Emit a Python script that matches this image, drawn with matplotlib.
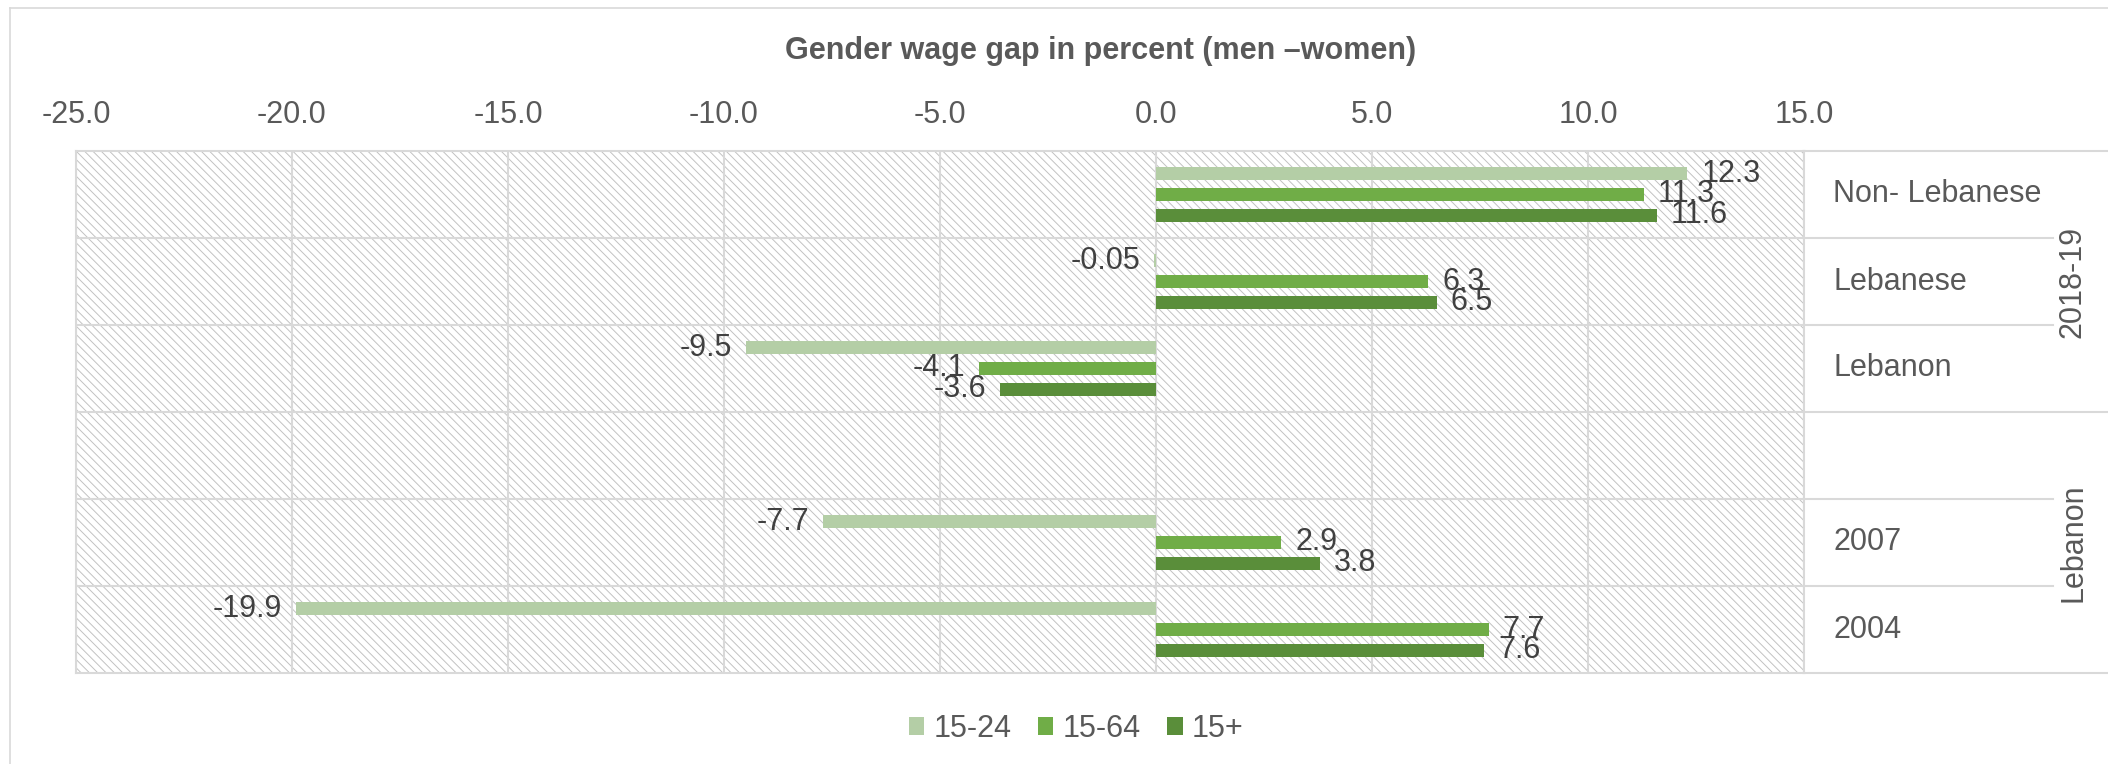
import matplotlib
matplotlib.use("Agg")
import matplotlib.pyplot as plt
import numpy as np
from matplotlib.patches import Rectangle, Patch
from matplotlib.lines import Line2D

plt.rcParams['font.family'] = ['Liberation Sans', 'DejaVu Sans']
plt.rcParams['hatch.linewidth'] = 0.7

# data (top row first)
categories = ['Non- Lebanese', 'Lebanese', 'Lebanon', '', '2007', '2004']
groups = ['2018-19', 'Lebanon']
group_rows = [(0, 2), (3, 5)]
series_names = ['15-24', '15-64', '15+']
age_15_24 = [12.3, -0.05, -9.5, np.nan, -7.7, -19.9]
age_15_64 = [11.3, 6.3, -4.1, np.nan, 2.9, 7.7]
age_15_plus = [11.6, 6.5, -3.6, np.nan, 3.8, 7.6]
xticks = [-25, -20, -15, -10, -5, 0, 5, 10, 15]

colors = ['#b4cea6', '#70ad47', '#5a8e3a']
grid_col = '#d9d9d9'
txt_col = '#595959'
lab_col = '#404040'

W, H = 2108, 764
fig = plt.figure(figsize=(W / 100, H / 100), dpi=100)
ax = fig.add_axes([76 / W, 1 - 673 / H, 1728 / W, 522 / H])

# hatched plot background
ax.add_patch(Rectangle((0, 0), 1, 1, transform=ax.transAxes, facecolor='white',
                       edgecolor='#c2c2c2', hatch='\\\\\\\\', lw=0, zorder=0))

y = np.arange(len(categories))
offsets = [-0.241, 0.0, 0.241]
all_series = [age_15_24, age_15_64, age_15_plus]
for vals, off, c, name in zip(all_series, offsets, colors, series_names):
    ax.barh(y + off, vals, height=0.149, color=c, zorder=3, label=name)
    for yi, v in zip(y, vals):
        if np.isnan(v):
            continue
        s = f'{v:.2f}' if abs(v) < 0.1 else f'{v:.1f}'
        dx = 10 if v >= 0 else -10
        ax.annotate(s, (v, yi + off), xytext=(dx, 0), textcoords='offset points',
                    ha='left' if v >= 0 else 'right', va='center',
                    fontsize=22, color=lab_col, zorder=5)

ax.set_xlim(-25, 15)
ax.set_ylim(len(categories) - 0.5, -0.5)
ax.set_xticks(xticks)
ax.set_xticklabels([f'{t:.1f}' for t in xticks])
ax.xaxis.tick_top()
ax.tick_params(axis='x', length=0, pad=15, labelsize=22, labelcolor=txt_col)
ax.set_yticks([])
for t in xticks:
    ax.axvline(t, color=grid_col, lw=1.5, zorder=1)
for b in np.arange(0.5, len(categories) - 1, 1.0):
    ax.axhline(b, color=grid_col, lw=1.5, zorder=1)
for sp in ax.spines.values():
    sp.set_color(grid_col)
    sp.set_linewidth(1.5)

# category table on the right
tr = ax.get_yaxis_transform()
for yi, cat in zip(y, categories):
    ax.text(1.0168, yi, cat, transform=tr, ha='left', va='center',
            fontsize=22, color=txt_col, clip_on=False)
inner_end = (2053 - 76) / 1728
outer_end = 1.2
for (a, b), g in zip(group_rows, groups):
    for k in range(a, b):
        ax.plot([1.0, inner_end], [k + 0.5, k + 0.5], transform=tr,
                color=grid_col, lw=1.5, clip_on=False)
    ax.text((2073 - 76) / 1728, (a + b) / 2, g, transform=tr, rotation=90,
            ha='center', va='center', fontsize=22, color=txt_col, clip_on=False)
for b in [-0.5, 2.5, 5.5]:
    ax.plot([1.0, outer_end], [b, b], transform=tr, color=grid_col,
            lw=1.5, clip_on=False)

# title
fig.text(1101 / W, 1 - 59 / H, 'Gender wage gap in percent (men \u2013women)',
         ha='center', va='baseline', fontsize=22, fontweight='bold', color=txt_col)

# legend
handles = [Patch(facecolor=c, edgecolor='none') for c in colors]
fig.legend(handles, series_names, loc='center', bbox_to_anchor=(1076 / W, 1 - 729 / H),
           ncol=3, frameon=False, fontsize=22, labelcolor=txt_col,
           handlelength=0.52, handleheight=0.52, handletextpad=0.3,
           columnspacing=0.85)

# chart border (cropped)
fig.add_artist(Line2D([10 / W, 10 / W], [0, 1 - 8 / H], transform=fig.transFigure,
                      color=grid_col, lw=1.2))
fig.add_artist(Line2D([10 / W, 1], [1 - 8 / H, 1 - 8 / H], transform=fig.transFigure,
                      color=grid_col, lw=1.2))

fig.savefig('out.png', dpi=100)
